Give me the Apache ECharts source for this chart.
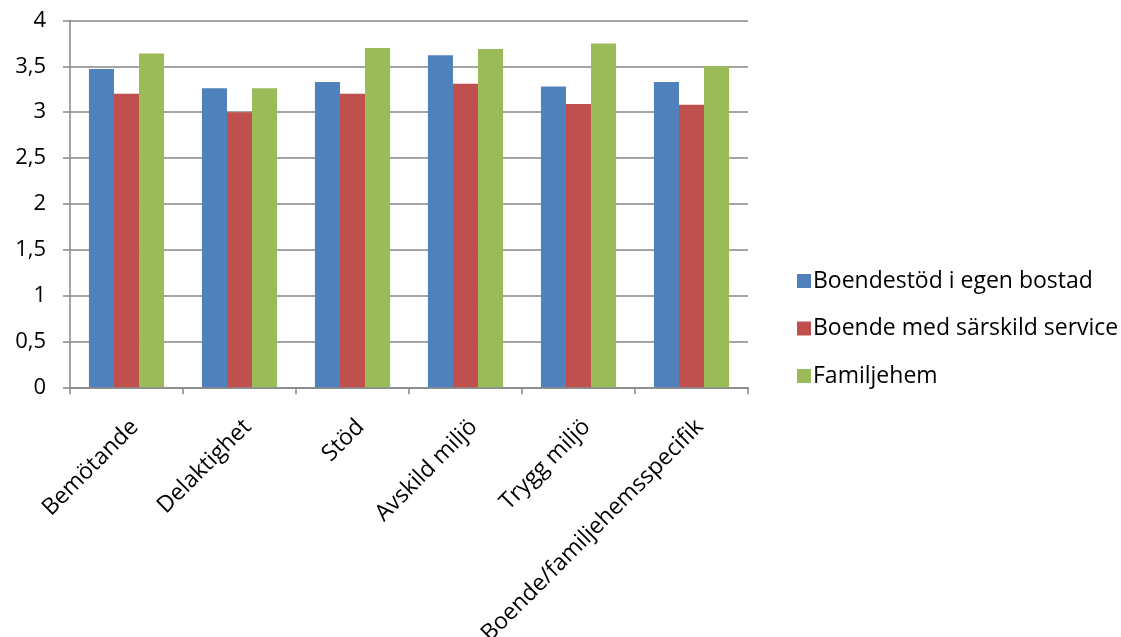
<!DOCTYPE html>
<html>
<head>
<meta charset="utf-8">
<script src="https://cdn.jsdelivr.net/npm/echarts@6/dist/echarts.min.js"></script>
<style>
  html, body { margin: 0; padding: 0; background: #fff; }
  #chart { width: 1121px; height: 637px; }
</style>
</head>
<body>
<div id="chart"></div>
<script>
// Kategorier och medelvärden per boendeform
const categories = ['Bemötande', 'Delaktighet', 'Stöd', 'Avskild miljö', 'Trygg miljö', 'Boende/familjehemsspecifik'];
const boendestod = [3.47, 3.26, 3.33, 3.62, 3.28, 3.33];
const sarskildService = [3.2, 3.0, 3.2, 3.31, 3.09, 3.08];
const familjehem = [3.64, 3.26, 3.70, 3.69, 3.75, 3.50];
const seriesNames = ['Boendestöd i egen bostad', 'Boende med särskild service', 'Familjehem'];

const FONT = '"Open Sans", sans-serif';
const AXIS_GRAY = '#868686';
const chart = echarts.init(document.getElementById('chart'));
chart.setOption({
  animation: false,
  textStyle: { fontFamily: FONT },
  legend: {
    orient: 'vertical',
    left: 792,
    top: 262,
    itemWidth: 14,
    itemHeight: 14,
    itemGap: 19.5,
    icon: 'rect',
    textStyle: { fontSize: 23, lineHeight: 28, color: '#000', fontFamily: FONT, padding: [0, 0, 0, -3] },
    data: seriesNames
  },
  grid: { left: 70, right: 373, top: 20.5, bottom: 249.7, containLabel: false, outerBoundsMode: 'none' },
  xAxis: {
    type: 'category',
    data: categories,
    axisLine: { lineStyle: { color: AXIS_GRAY, width: 1.5 } },
    axisTick: { show: true, alignWithLabel: false, length: 7, lineStyle: { color: AXIS_GRAY, width: 1.5 } },
    axisLabel: { rotate: 45, fontSize: 23, color: '#000', margin: 28, interval: 0, verticalAlign: 'top' }
  },
  yAxis: {
    type: 'value',
    min: 0, max: 4, interval: 0.5,
    axisLine: { show: true, lineStyle: { color: AXIS_GRAY, width: 1.5 } },
    axisTick: { show: true, length: 7, lineStyle: { color: AXIS_GRAY, width: 1.5 } },
    splitLine: { lineStyle: { color: AXIS_GRAY, width: 1.5 } },
    axisLabel: {
      fontSize: 22, color: '#000', margin: 24,
      formatter: v => String(v).replace('.', ',')
    }
  },
  series: [
    { name: seriesNames[0], type: 'bar', data: boendestod, itemStyle: { color: '#4F81BD' }, barGap: '0%', barCategoryGap: '33.5%' },
    { name: seriesNames[1], type: 'bar', data: sarskildService, itemStyle: { color: '#C0504D' }, barGap: '0%', barCategoryGap: '33.5%' },
    { name: seriesNames[2], type: 'bar', data: familjehem, itemStyle: { color: '#9BBB59' }, barGap: '0%', barCategoryGap: '33.5%' }
  ]
});
</script>
</body>
</html>
